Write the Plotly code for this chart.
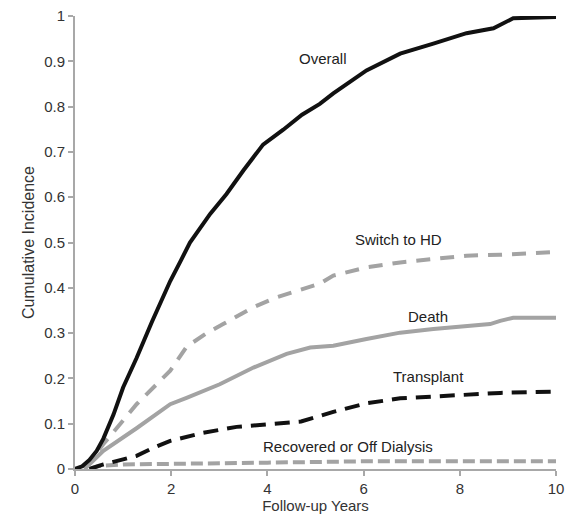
import plotly.graph_objects as go

# Follow-up years and cumulative incidence values
overall_x = [0, 0.15, 0.3, 0.45, 0.59, 0.8, 1.0, 1.28, 1.6, 1.98, 2.2, 2.39, 2.81, 3.15, 3.5, 3.91, 4.33, 4.72, 5.09, 5.37, 6.06, 6.76, 7.45, 8.14, 8.7, 9.11, 10]
overall_y = [0, 0.006, 0.02, 0.04, 0.067, 0.12, 0.18, 0.245, 0.325, 0.415, 0.46, 0.5, 0.563, 0.607, 0.659, 0.716, 0.749, 0.782, 0.806, 0.829, 0.88, 0.917, 0.939, 0.962, 0.973, 0.995, 0.998]

hd_x = [0.2, 0.4, 0.59, 1.28, 1.98, 2.32, 2.74, 3.08, 3.71, 4.19, 4.72, 5.09, 5.37, 6.06, 6.76, 7.45, 8.14, 8.84, 10]
hd_y = [0, 0.028, 0.055, 0.143, 0.217, 0.27, 0.3, 0.32, 0.357, 0.379, 0.397, 0.409, 0.427, 0.445, 0.456, 0.464, 0.471, 0.473, 0.479]

death_x = [0.2, 0.4, 0.59, 1.28, 1.98, 2.32, 3.01, 3.71, 4.4, 4.89, 5.37, 6.06, 6.76, 7.45, 8.14, 8.63, 8.84, 9.11, 10]
death_y = [0, 0.02, 0.04, 0.09, 0.143, 0.157, 0.187, 0.224, 0.254, 0.268, 0.272, 0.287, 0.301, 0.309, 0.316, 0.32, 0.327, 0.334, 0.334]

tx_x = [0.3, 0.59, 1.28, 1.63, 1.98, 2.67, 3.36, 4.05, 4.7, 5.09, 5.37, 6.06, 6.76, 7.45, 8.14, 8.84, 10]
tx_y = [0, 0.01, 0.029, 0.047, 0.062, 0.08, 0.093, 0.1, 0.105, 0.117, 0.126, 0.145, 0.156, 0.16, 0.164, 0.168, 0.171]

rec_x = [0.3, 0.5, 1.0, 2.0, 4.0, 6.0, 8.0, 10]
rec_y = [0, 0.007, 0.01, 0.012, 0.014, 0.017, 0.017, 0.017]

labels = ["Overall", "Switch to HD", "Death", "Transplant", "Recovered or Off Dialysis"]
label_x = [5.16, 6.72, 7.34, 7.34, 5.68]
label_y = [0.907, 0.506, 0.336, 0.204, 0.049]

x_ticks = [0, 2, 4, 6, 8, 10]
y_ticks = [0, 0.1, 0.2, 0.3, 0.4, 0.5, 0.6, 0.7, 0.8, 0.9, 1]
y_ticktext = ["0", "0.1", "0.2", "0.3", "0.4", "0.5", "0.6", "0.7", "0.8", "0.9", "1"]

BLACK = "#111111"
GRAY = "#a3a3a3"
FONT = "Liberation Sans, Arial"

fig = go.Figure()
fig.add_trace(go.Scatter(x=rec_x, y=rec_y, mode="lines",
                         line=dict(color=GRAY, width=4, dash="12px,5px")))
fig.add_trace(go.Scatter(x=tx_x, y=tx_y, mode="lines",
                         line=dict(color=BLACK, width=4, dash="15px,9px")))
fig.add_trace(go.Scatter(x=death_x, y=death_y, mode="lines",
                         line=dict(color=GRAY, width=4)))
fig.add_trace(go.Scatter(x=hd_x, y=hd_y, mode="lines",
                         line=dict(color=GRAY, width=4, dash="14px,10px")))
fig.add_trace(go.Scatter(x=overall_x, y=overall_y, mode="lines",
                         line=dict(color=BLACK, width=4)))

for t, lx, ly in zip(labels, label_x, label_y):
    fig.add_annotation(x=lx, y=ly, text=t, showarrow=False,
                       font=dict(family=FONT, size=15, color="#222222"))

axis_common = dict(showline=True, linecolor="#a8a8a8", linewidth=2,
                   ticks="outside", ticklen=5, tickwidth=1.5, tickcolor="#a8a8a8",
                   showgrid=False, zeroline=False, automargin=False,
                   tickfont=dict(family=FONT, size=15, color="#333333"))

fig.update_layout(
    width=571, height=520,
    margin=dict(l=75, r=15, t=16, b=51),
    paper_bgcolor="white", plot_bgcolor="white",
    showlegend=False,
    xaxis=dict(range=[0, 10], tickvals=x_ticks, ticktext=[str(v) for v in x_ticks],
               title=dict(text="Follow-up Years", standoff=2,
                          font=dict(family=FONT, size=15, color="#333333")),
               **axis_common),
    yaxis=dict(range=[0, 1], tickvals=y_ticks, ticktext=y_ticktext,
               title=dict(text="Cumulative Incidence", standoff=6,
                          font=dict(family=FONT, size=16, color="#333333")),
               **axis_common),
)
fig.update_traces(cliponaxis=False)

fig.write_html("out.html", config={"displayModeBar": False},
               post_script="document.body.style.margin='0';document.body.style.overflow='hidden';")
